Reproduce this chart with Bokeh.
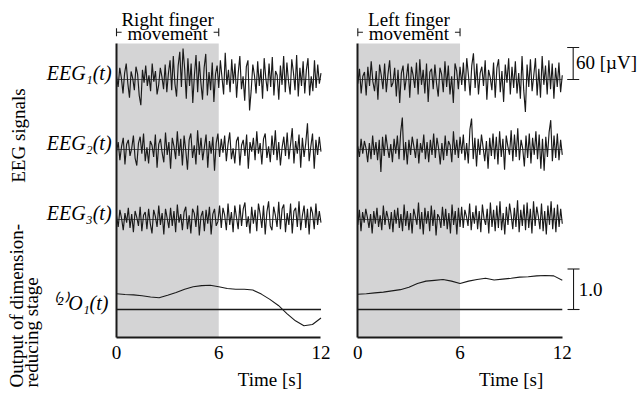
import math
import numpy as np
from bokeh.plotting import figure
from bokeh.layouts import row
from bokeh.models import Range1d, BoxAnnotation, Label, Arrow, TeeHead, FixedTicker
from bokeh.embed import file_html
from bokeh.resources import INLINE

# ---------------- data ----------------
T_TICKS = [0, 6, 12]
T_START, T_END = 0, 12
MOVE_START, MOVE_END = 0, 6

# EEG signals [uV], evenly sampled over 0..12 s  (panel: right finger movement)
EEG1_RIGHT = [6, -14, 22, 3, -26, 12, 30, -8, -34, 15, 2, -20,
              24, 10, -30, -48, 18, -6, 26, -12, 8, -22,
              30, -4, 16, -28, -10, 22, 5, -18, 28, -24,
              12, 36, -20, 44, -8, -32, 26, 52, -14, 58, 20,
              -36, 40, -12, 30, -44, 8, 46, -24, 34, -6, -38,
              22, 48, -30, 14, -20, 32, -42, 10, 26, -16, 36, 4,
              -28, 50, -10, 18, -24, 38, -8, 30, -34, 12,
              44, -18, 6, -40, 24, 36, -58, -20, 28, 8, -26,
              34, -12, 20, -36, 40, 2, -22, 30, -14, 42,
              -30, 16, 8, -38, 26, -10, 44, -24, 32, -4,
              -28, 38, 14, -20, 46, -32, 22, -12, 34, -26,
              18, 40, -30, 6, -22, 36, -16, 28, -8, 12]
EEG2_RIGHT = [-4, 14, -20, 6, 22, -28, 10, 18, -12, 2, 26, -16,
              -30, 12, 24, -8, 30, -22, 4, -26, 16, 8,
              -14, 28, -34, 10, 20, -6, -24, 32, -10, 14,
              -36, 22, 6, -18, 34, -12, 20, -30, 26, -2,
              -38, 18, 30, -16, 8, -28, 36, -10, 22, -20,
              4, 28, -34, 16, -8, 24, -40, 12, 30, -14,
              20, -6, 26, -22, 10, 32, -18, 2, -26, 16,
              24, -30, 8, 18, -12, 28, -36, 14, -4, 22,
              -20, 34, -8, 12, -28, 20, 30, -16, 6, -24,
              26, -10, 36, -20, 14, -30, 4, 24, -12, 32,
              -18, 10, 40, -26, 16, -8, 28, -34, 22, -14,
              12, 49, -22, 6, 30, -36, 18, -10, 24, -4]
EEG3_RIGHT = [8, -14, 18, 2, -20, 12, -6, 22, -16, 10, -24,
              16, 4, -12, 24, -22, 8, 14, -18, 20, -8, -26,
              18, 6, -14, 26, -10, 12, -28, 20, 2, -16,
              22, -12, 16, -24, 28, -6, 10, -20, 14, 24,
              -18, 8, -26, 20, 12, -14, 26, -30, 6, 16,
              -22, 18, -8, 24, -28, 10, 20, -12, -4, 26,
              -16, 22, 8, -20, 30, -10, 14, -24, 26, 4,
              -18, 28, -12, 20, 32, -14, 6, -26, 24, -8,
              18, -22, 30, 10, -16, 26, -28, 14, 34, -12,
              -20, 24, 8, -14, 33, -18, 20, 28, -24, 12,
              -10, 30, -26, 16, 22, -14, 34, -20, 8, 26,
              -16, 20, -28, 24, 12, -18, 30, -10, 16, -6]

# (panel: left finger movement)
EEG1_LEFT = [-8, 20, -26, 6, 14, -30, 24, -12, 34, -4, -22,
             16, -38, 28, 8, -18, 30, -24, 10, 36, -14, -6,
             22, -32, 18, -44, 12, 26, -20, 4, 30, -34,
             24, 8, -16, 32, -28, 38, -10, 18, -26, 30,
             -42, 14, 20, -18, 28, -8, -32, 22, 10, -24,
             34, -14, 26, -28, 6, -44, 30, 16, -18, 24,
             -10, 32, -22, 40, 8, -30, 26, 49, -16, 30,
             -28, 12, 24, -12, 36, -38, 18, 4, -20, 32,
             -34, 22, 38, -24, 16, -42, 28, -6, 40, -28,
             24, -16, 34, -26, 12, -36, 44, -20, -61, 28,
             -14, 38, -22, 8, 40, -30, 20, -34, 44, -10,
             26, -28, 36, -18, 30, -36, 22, -14, 32, -24, 8]
EEG2_LEFT = [6, -14, 20, -8, 16, 2, -24, 12, -18, 26, -10, 14,
             -20, 18, -42, 24, -12, 28, 4, -16, 10, -24,
             20, -8, 26, -18, 32, 60, -20, 14, -28, 18,
             -10, 24, 6, -16, 20, -26, 12, -6, 28, -18,
             14, -24, 18, -10, 30, -16, 22, 2, -28, 12,
             -20, 26, -12, 16, 8, -24, 34, -10, 18, -16,
             24, -8, 28, -20, 12, -26, 38, 58, -18, 22,
             -32, 20, -10, 28, 4, -22, 16, -36, 22, -12, 30,
             -18, 24, -28, 34, -14, 20, -38, 26, 6, -10, 36,
             -22, 28, -14, 40, -20, 18, 2, -32, 26, -16, 30,
             -26, 22, -10, 34, -18, 28, -36, 20, -40, 24,
             -14, 32, 55, -22, 26, -16, 30, -20, 18, -10]
EEG3_LEFT = [-10, 18, -22, 14, -6, 20, 4, -16, 10, -26, 16, -8,
             22, -14, 8, -20, 26, -10, 16, 2, -18, 14, -24,
             18, -8, 22, -16, 10, -22, 28, -12, 16, -20,
             12, -26, 20, 6, -10, 32, -18, 14, -28, 22, -8,
             16, -22, 26, -12, 18, -30, 10, 4, -16, 24, -12,
             20, -18, 12, -26, 28, -10, 16, -28, 22, -14,
             24, -16, 18, 6, -12, 30, -20, 14, -8, 26, -18,
             16, -24, 28, 2, -10, 20, -26, 32, -14, 18, -22,
             26, -16, 34, -20, 12, -28, 24, -10, 30, 8, -18,
             22, -14, 36, -24, 18, -12, 28, -20, 32, -16,
             20, -26, 34, -12, 24, 6, -18, 30, -22, 16, -28,
             26, -10, 34, -18, 22, -24, 28, -14, 20, -8]

# Output of dimension-reducing stage
OUT_T = [0, 0.5, 1, 1.5, 2, 2.5, 3, 3.5, 4, 4.5, 5, 5.5, 6,
         6.5, 7, 7.5, 8, 8.5, 9, 9.5, 10, 10.5, 11, 11.5, 12]
OUT_RIGHT = [0.39, 0.37, 0.36, 0.34, 0.31, 0.29, 0.35, 0.42, 0.50, 0.56, 0.59, 0.60, 0.56,
             0.52, 0.50, 0.50, 0.48, 0.38, 0.25, 0.10, -0.10, -0.28, -0.40, -0.37, -0.21]
OUT_LEFT = [0.375, 0.39, 0.41, 0.43, 0.46, 0.49, 0.55, 0.64, 0.70, 0.72, 0.74, 0.70, 0.64,
            0.70, 0.74, 0.77, 0.73, 0.75, 0.77, 0.80, 0.81, 0.83, 0.84, 0.83, 0.72]

EEG_LABELS = ["EEG\u2081(t)", "EEG\u2082(t)", "EEG\u2083(t)"]
OUT_LABEL = "\u207d\u00b2\u207eO\u2081(t)"
EEG_SCALE = 60      # uV
OUT_SCALE = 1.0

# ---------------- style / layout ----------------
SERIF = "Liberation Serif"
INK = "#1a1a1a"
SHADE = "#d4d4d5"
PX_PER_S = 17.04
PX_PER_UV = 32 / 60
PX_PER_OUT = 40.5
H = 393
EEG_SPACING = 70 / PX_PER_UV                 # uV between channel baselines
EEG_OFFSETS = [0, -EEG_SPACING, -2 * EEG_SPACING]
Y_TOP = 79 / PX_PER_UV                       # canvas top, EEG1 baseline at 79 px
Y_BOT = -(H - 79) / PX_PER_UV
AXIS_Y = -(337 - 79) / PX_PER_UV
SHADE_TOP = (79 - 43) / PX_PER_UV
OUT_TOP = 309 / PX_PER_OUT
OUT_BOT = -(H - 309) / PX_PER_OUT


def ypx(py):
    """data uV for a canvas pixel row"""
    return (79 - py) / PX_PER_UV


def lab(p, x, y, text, size="19px", align="center", baseline="middle", style="normal", angle=0.0, **kw):
    p.add_layout(Label(x=x, y=y, text=text, text_font=SERIF, text_font_size=size,
                       text_font_style=style, text_color="black", text_align=align,
                       text_baseline=baseline, angle=angle, **kw))


def tee(size):
    return TeeHead(size=size, line_width=1.1, line_color=INK)


def panel(eegs, out, heading, width, x0px):
    xr = Range1d(-x0px / PX_PER_S, (width - x0px) / PX_PER_S)
    p = figure(width=width, height=H, x_range=xr, y_range=Range1d(Y_BOT, Y_TOP),
               output_backend="svg", toolbar_location=None,
               min_border_left=0, min_border_right=0, min_border_top=0, min_border_bottom=0,
               outline_line_color=None)
    p.extra_y_ranges = {"out": Range1d(OUT_BOT, OUT_TOP)}
    p.grid.visible = False
    p.add_layout(BoxAnnotation(left=MOVE_START, right=MOVE_END, top=SHADE_TOP, bottom=AXIS_Y,
                               fill_color=SHADE, fill_alpha=1.0, line_color=None, level="underlay"))

    xa = p.xaxis[0]
    xa.fixed_location = AXIS_Y
    xa.bounds = (T_START, T_END)
    xa.ticker = FixedTicker(ticks=T_TICKS)
    xa.major_label_text_font = SERIF
    xa.major_label_text_font_size = "19px"
    xa.major_label_text_color = "black"
    xa.major_tick_line_color = None
    xa.minor_tick_line_color = None
    xa.major_tick_out = 0
    xa.major_tick_in = 0
    xa.major_label_standoff = 8
    xa.axis_line_width = 2
    xa.axis_line_color = INK

    ya = p.yaxis[0]
    ya.fixed_location = MOVE_START
    ya.bounds = (AXIS_Y, SHADE_TOP)
    ya.ticker = FixedTicker(ticks=[])
    ya.major_label_text_font_size = "0px"
    ya.major_tick_line_color = None
    ya.minor_tick_line_color = None
    ya.major_tick_out = 0
    ya.major_tick_in = 0
    ya.axis_line_width = 2
    ya.axis_line_color = INK

    for vals, off in zip(eegs, EEG_OFFSETS):
        p.segment(x0=[T_START], x1=[T_END], y0=[off], y1=[off], line_color="#333333", line_width=0.8)
        t = np.linspace(T_START, T_END, len(vals))
        p.line(t, np.array(vals, dtype=float) + off, line_color=INK, line_width=1.15)

    p.segment(x0=[T_START], x1=[T_END], y0=[0], y1=[0], y_range_name="out", line_color=INK, line_width=1.3)
    p.line(OUT_T, out, y_range_name="out", line_color=INK, line_width=1.1)

    # heading with bracket
    mid = (MOVE_START + MOVE_END) / 2
    lab(p, mid, ypx(18.6), heading[0])
    lab(p, mid, ypx(33.3), heading[1])
    yb = ypx(31.7)
    p.add_layout(Arrow(x_start=MOVE_START + 0.3, x_end=MOVE_START, y_start=yb, y_end=yb,
                       start=None, end=tee(8), line_width=1.1, line_color=INK))
    p.add_layout(Arrow(x_start=MOVE_END - 0.3, x_end=MOVE_END, y_start=yb, y_end=yb,
                       start=None, end=tee(8), line_width=1.1, line_color=INK))
    lab(p, 9.0, ypx(379), "Time [s]")
    return p


left = panel([EEG1_RIGHT, EEG2_RIGHT, EEG3_RIGHT], OUT_RIGHT, ("Right finger", "movement"), 338, 116)
right = panel([EEG1_LEFT, EEG2_LEFT, EEG3_LEFT], OUT_LEFT, ("Left finger", "movement"), 301, 19.3)

# left-side labels
for txt, off in zip(EEG_LABELS, EEG_OFFSETS):
    lab(left, -0.29, off + 6.5 / PX_PER_UV, txt, size="20px", align="right", style="italic")
lab(left, -0.47, 6.5 / PX_PER_OUT, OUT_LABEL, size="20px", align="right", style="italic",
    y_range_name="out")
lab(left, -5.75, ypx(135), "EEG signals", angle=math.pi / 2)
lab(left, -5.87, ypx(387), "Output of dimension-", align="left", angle=math.pi / 2)
lab(left, -4.99, ypx(387), "reducing stage", align="left", angle=math.pi / 2)

# scale bars on right panel
right.add_layout(Arrow(x_start=12.64, x_end=12.64, y_start=0, y_end=EEG_SCALE,
                       start=tee(12), end=tee(12), line_width=1.1, line_color=INK))
lab(right, 12.80, EEG_SCALE / 2 + 2, "60 [\u00b5V]", align="left")
right.add_layout(Arrow(x_start=12.66, x_end=12.66, y_start=0, y_end=OUT_SCALE, y_range_name="out",
                       start=tee(12), end=tee(12), line_width=1.1, line_color=INK))
lab(right, 12.97, OUT_SCALE / 2, "1.0", align="left", y_range_name="out")

layout = row(left, right)
open("out.html", "w").write(file_html(layout, INLINE))
